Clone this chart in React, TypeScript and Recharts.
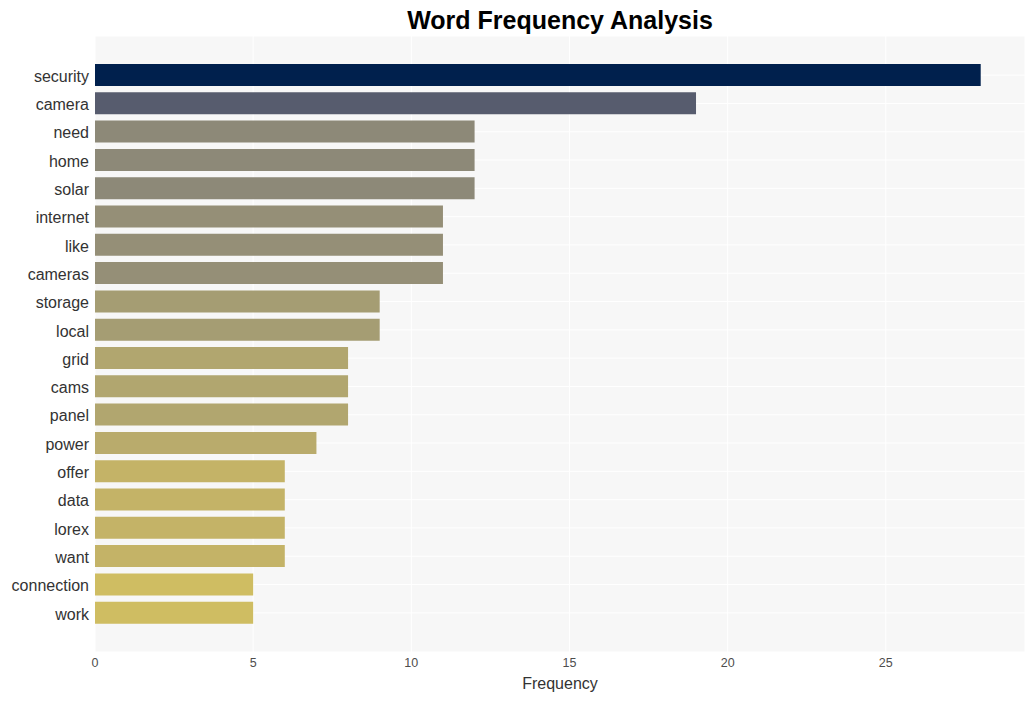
import { BarChart, Bar, XAxis, YAxis, CartesianGrid, Cell } from "recharts";

const WORDS = [
  "security",
  "camera",
  "need",
  "home",
  "solar",
  "internet",
  "like",
  "cameras",
  "storage",
  "local",
  "grid",
  "cams",
  "panel",
  "power",
  "offer",
  "data",
  "lorex",
  "want",
  "connection",
  "work",
];

const COUNTS = [28, 19, 12, 12, 12, 11, 11, 11, 9, 9, 8, 8, 8, 7, 6, 6, 6, 6, 5, 5];

const X_TICKS = [0, 5, 10, 15, 20, 25];

// one fill per bar, darkest for the most frequent word
const BAR_COLORS = [
  "#00204d",
  "#575c6e",
  "#8d8978",
  "#8d8978",
  "#8d8978",
  "#958f77",
  "#958f77",
  "#958f77",
  "#a59d73",
  "#a59d73",
  "#b1a66f",
  "#b1a66f",
  "#b1a66f",
  "#b9ab6c",
  "#c4b367",
  "#c4b367",
  "#c4b367",
  "#c4b367",
  "#cfbd62",
  "#cfbd62",
];

const FONT = '"Liberation Sans", Arial, Helvetica, sans-serif';

export default function App() {
  const data = WORDS.map((word, i) => ({ word, count: COUNTS[i] }));

  return (
    <div
      style={{
        position: "absolute",
        left: 0,
        top: 0,
        width: 1035,
        height: 701,
        background: "#fff",
        fontFamily: FONT,
      }}
    >
      <div
        style={{
          position: "absolute",
          left: 95,
          width: 930,
          top: 6,
          textAlign: "center",
          fontSize: 25,
          fontWeight: "bold",
          color: "#000",
        }}
      >
        Word Frequency Analysis
      </div>
      <BarChart
        width={1035}
        height={701}
        data={data}
        layout="vertical"
        margin={{ top: 36, right: 10, bottom: 0, left: 0 }}
      >
        <CartesianGrid fill="#f7f7f7" stroke="#ffffff" strokeWidth={1} />
        <XAxis
          type="number"
          domain={[0, 29.4]}
          ticks={X_TICKS}
          height={49}
          axisLine={false}
          tickLine={false}
          tickMargin={0}
          tick={{ fill: "#4d4d4d", fontSize: 12.5, fontFamily: FONT }}
          label={{
            value: "Frequency",
            position: "insideBottom",
            offset: 12,
            fill: "#333",
            fontSize: 16,
            fontFamily: FONT,
          }}
        />
        <YAxis
          type="category"
          dataKey="word"
          width={95}
          axisLine={false}
          tickLine={false}
          tickMargin={0}
          interval={0}
          padding={{ top: 25, bottom: 25 }}
          tick={{ fill: "#333", fontSize: 16, fontFamily: FONT, dy: 1 }}
        />
        <Bar dataKey="count" barSize={22} isAnimationActive={false}>
          {data.map((_, i) => (
            <Cell key={i} fill={BAR_COLORS[i]} />
          ))}
        </Bar>
      </BarChart>
    </div>
  );
}
